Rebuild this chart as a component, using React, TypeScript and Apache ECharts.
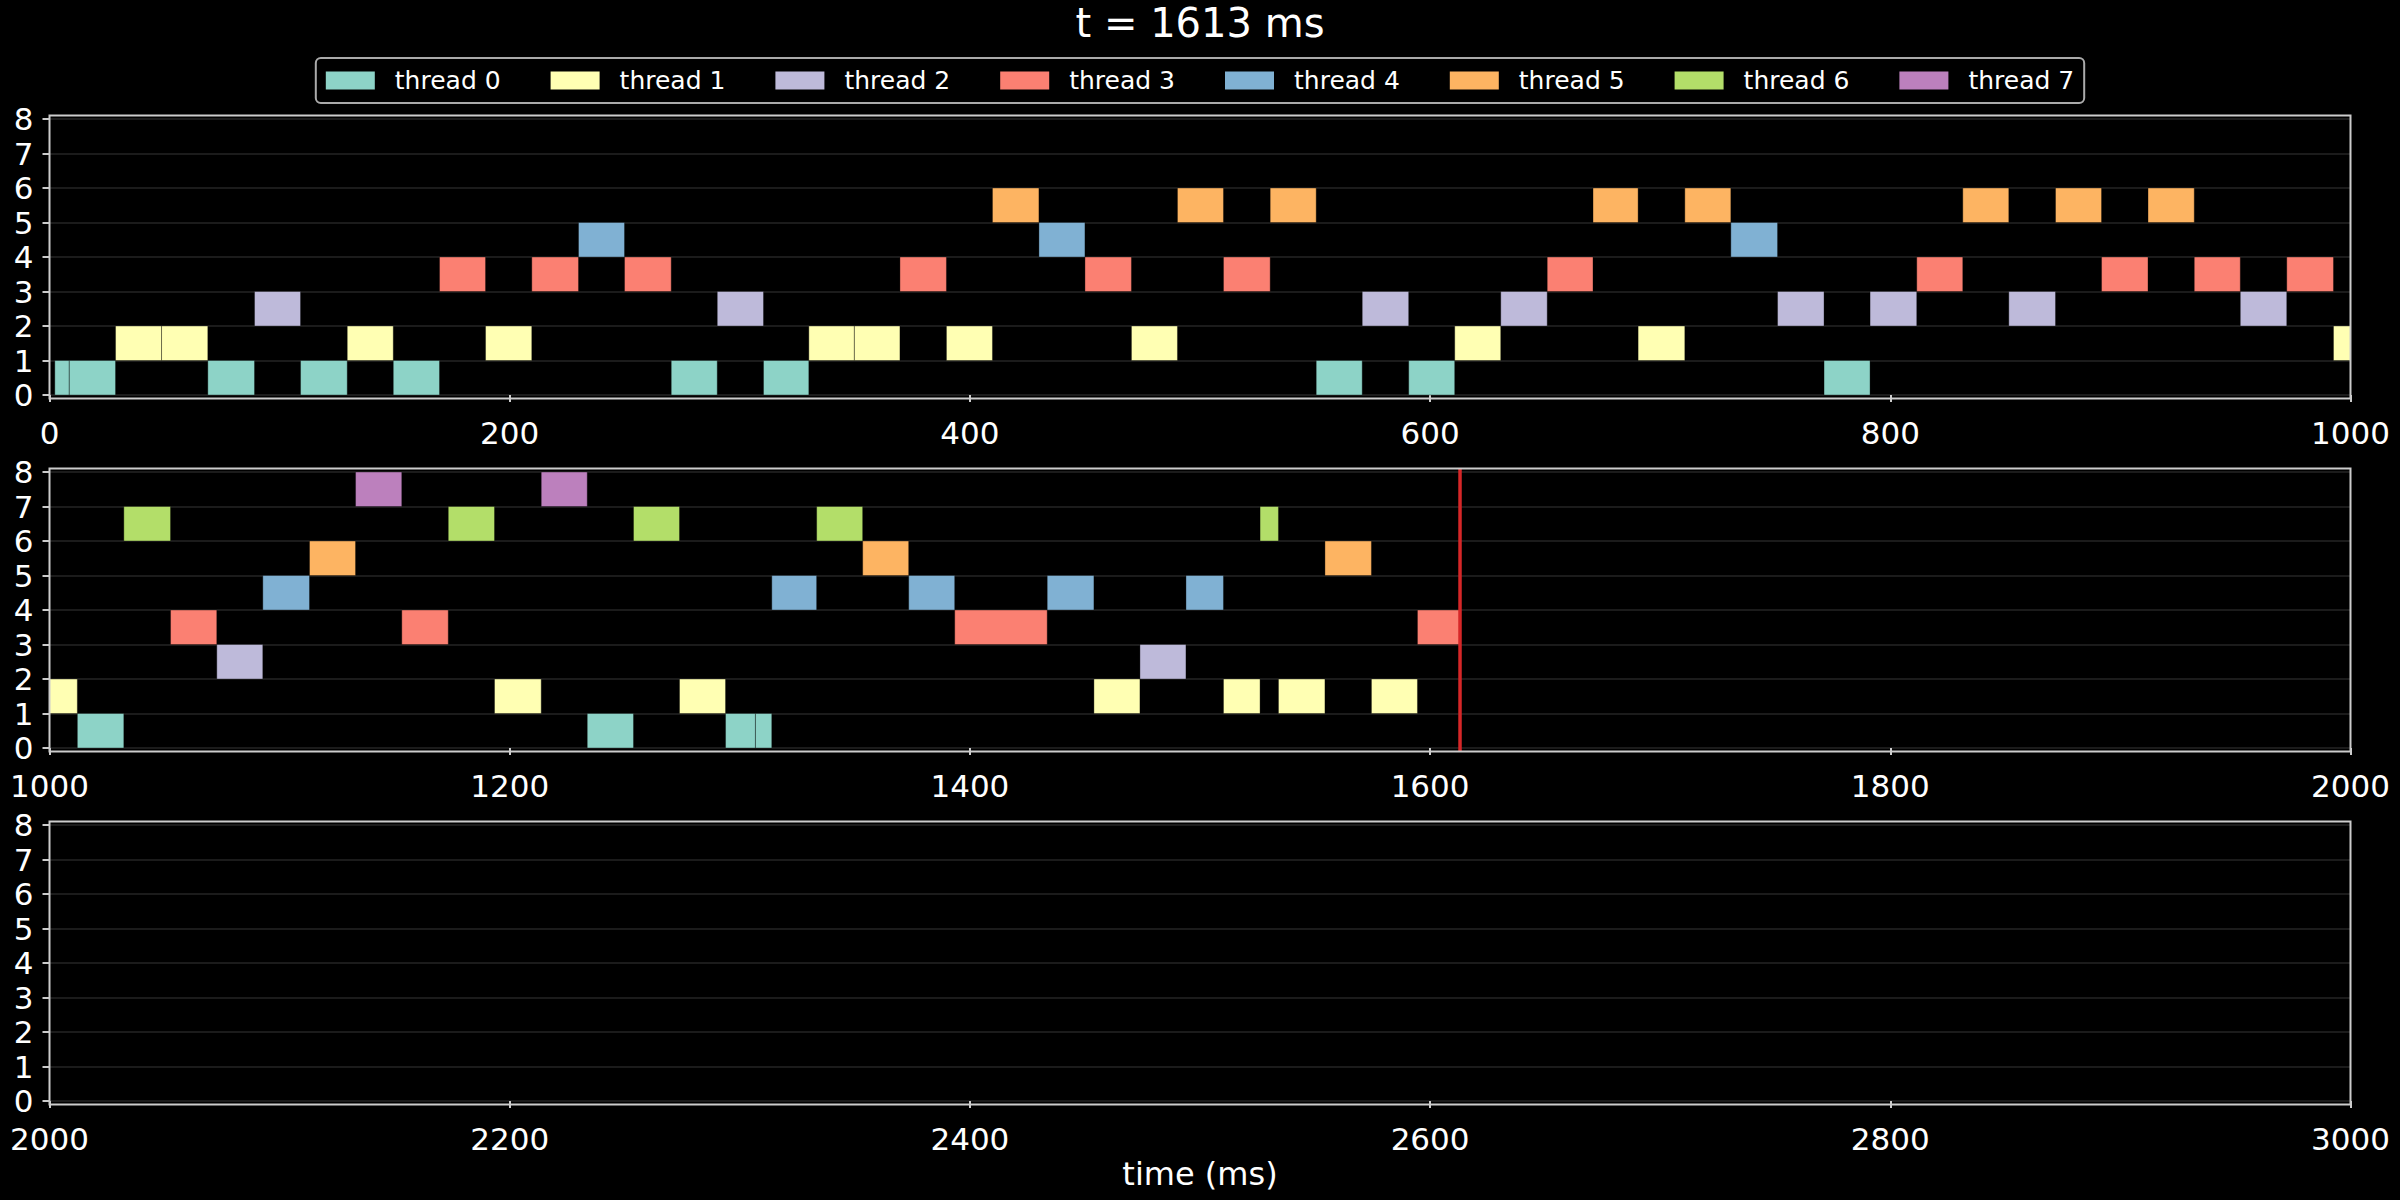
import React, { useEffect, useRef } from "react";
import * as echarts from "echarts";

const THREADS = ["thread 0", "thread 1", "thread 2", "thread 3", "thread 4", "thread 5", "thread 6", "thread 7"];
const COLORS = ["#8dd3c7", "#ffffb3", "#bebada", "#fb8072", "#80b1d3", "#fdb462", "#b3de69", "#bc80bd"];
const CURRENT_T = 1613;
const PANEL_RANGES = [[0, 1000], [1000, 2000], [2000, 3000]];
const Y_TICKS = [0, 1, 2, 3, 4, 5, 6, 7, 8];

// task i runs on thread TASK_THREAD[i] from TASK_START[i] to TASK_END[i] (ms)
const TASK_THREAD = [
  0, 0, 1, 1, 0, 2, 0, 1, 0, 3, 1, 3, 4, 3, 0, 2, 0, 1, 1, 3,
  1, 5, 4, 3, 1, 5, 3, 5, 0, 2, 0, 1, 2, 3, 5, 1, 5, 4, 2, 0,
  2, 3, 5, 2, 5, 3, 5, 3, 2, 3, 1, 0, 6, 3, 2, 4, 5, 7, 3, 6,
  1, 7, 0, 6, 1, 0, 0, 4, 6, 5, 4, 3, 4, 1, 2, 4, 1, 6, 1, 5,
  1, 3,
];
const TASK_START = [
  2.3, 8.6, 28.7, 48.7, 68.8, 89.1, 109.1, 129.4, 149.4, 169.5,
  189.5, 209.6, 229.9, 249.9, 270.2, 290.2, 310.3, 330.0, 349.8, 369.6,
  389.8, 409.8, 430.0, 450.0, 470.2, 490.2, 510.2, 530.5, 550.5, 570.5,
  590.7, 610.7, 630.7, 650.9, 670.8, 690.4, 710.7, 730.7, 751.0, 771.2,
  791.2, 811.5, 831.5, 851.5, 871.8, 891.8, 912.0, 932.1, 952.1, 972.3,
  992.6, 1012.1, 1032.3, 1052.6, 1072.7, 1092.7, 1113.0, 1133.0, 1153.1, 1173.3,
  1193.4, 1213.7, 1233.7, 1253.8, 1273.8, 1293.8, 1306.8, 1313.9, 1333.4, 1353.4,
  1373.4, 1393.4, 1433.6, 1453.9, 1473.9, 1493.9, 1510.2, 1526.1, 1534.1, 1554.3,
  1574.5, 1594.5,
];
const TASK_END = [
  8.6, 28.7, 48.7, 68.8, 89.1, 109.1, 129.4, 149.4, 169.5, 189.5,
  209.6, 229.9, 249.9, 270.2, 290.2, 310.3, 330.0, 349.8, 369.6, 389.8,
  409.8, 430.0, 450.0, 470.2, 490.2, 510.2, 530.5, 550.5, 570.5, 590.7,
  610.7, 630.7, 650.9, 670.8, 690.4, 710.7, 730.7, 751.0, 771.2, 791.2,
  811.5, 831.5, 851.5, 871.8, 891.8, 912.0, 932.1, 952.1, 972.3, 992.6,
  1012.1, 1032.3, 1052.6, 1072.7, 1092.7, 1113.0, 1133.0, 1153.1, 1173.3, 1193.4,
  1213.7, 1233.7, 1253.8, 1273.8, 1293.8, 1306.8, 1313.9, 1333.4, 1353.4, 1373.4,
  1393.4, 1433.6, 1453.9, 1473.9, 1493.9, 1510.2, 1526.1, 1534.1, 1554.3, 1574.5,
  1594.5, 1613.0,
];

const FONT = "DejaVu Sans";
const GRID_LEFT = 49.5;
const GRID_WIDTH = 2301;
const GRID_TOPS = [119, 472, 825];
const GRID_HEIGHT = 276;
const Y_PAD = 0.1; // frame extends 0.1 row beyond 0..8

export default function App() {
  const ref = useRef<HTMLDivElement>(null);

  useEffect(() => {
    if (!ref.current) return;
    const chart = echarts.init(ref.current, null, { renderer: "svg" });
    const unit = GRID_HEIGHT / 8;

    const grids = GRID_TOPS.map((top) => ({
      left: GRID_LEFT,
      top,
      width: GRID_WIDTH,
      height: GRID_HEIGHT,
      containLabel: false,
    }));

    const xAxes = PANEL_RANGES.map(([mn, mx], i) => ({
      type: "value",
      gridIndex: i,
      min: mn,
      max: mx,
      interval: 200,
      offset: Y_PAD * unit,
      axisLine: { show: false },
      axisTick: { show: true, length: 7, lineStyle: { color: "#cccccc", width: 2 } },
      axisLabel: {
        color: "#ffffff",
        fontSize: 31,
        fontFamily: FONT,
        margin: 19,
        showMinLabel: true,
        showMaxLabel: true,
        formatter: (v: number) => String(v),
      },
      splitLine: { show: false },
      ...(i === 2
        ? {
            name: "time (ms)",
            nameLocation: "middle",
            nameGap: 54,
            nameTextStyle: { color: "#ffffff", fontSize: 32, fontFamily: FONT },
          }
        : {}),
    }));

    const yAxes = PANEL_RANGES.map((_, i) => ({
      type: "value",
      gridIndex: i,
      min: Y_TICKS[0],
      max: Y_TICKS[Y_TICKS.length - 1],
      interval: 1,
      axisLine: { show: false },
      axisTick: { show: true, length: 7, lineStyle: { color: "#cccccc", width: 2 } },
      axisLabel: { color: "#ffffff", fontSize: 31, fontFamily: FONT, margin: 16 },
      splitLine: { show: true, lineStyle: { color: "#242424", width: 1.5 } },
    }));

    const renderTask = (params: any, api: any) => {
      const s = api.value(0);
      const e = api.value(1);
      const th = api.value(2);
      const p0 = api.coord([s, th + 1]);
      const p1 = api.coord([e, th]);
      const cs = params.coordSys;
      const shape = echarts.graphic.clipRectByRect(
        { x: p0[0], y: p0[1], width: p1[0] - p0[0], height: p1[1] - p0[1] },
        { x: cs.x, y: cs.y, width: cs.width, height: cs.height }
      );
      if (!shape) return null;
      return {
        type: "rect",
        shape,
        style: { fill: COLORS[th], stroke: "rgba(0,0,0,0.35)", lineWidth: 1 },
      };
    };

    const series: any[] = [];
    PANEL_RANGES.forEach(([mn, mx], p) => {
      THREADS.forEach((name, th) => {
        const data: number[][] = [];
        for (let i = 0; i < TASK_THREAD.length; i++) {
          if (TASK_THREAD[i] !== th) continue;
          if (TASK_END[i] <= mn || TASK_START[i] >= mx) continue;
          data.push([TASK_START[i], TASK_END[i], th]);
        }
        series.push({
          type: "custom",
          name,
          xAxisIndex: p,
          yAxisIndex: p,
          itemStyle: { color: COLORS[th] },
          encode: { x: [0, 1], y: 2 },
          renderItem: renderTask,
          data,
          silent: true,
        });
      });
    });

    const cursorPanel = PANEL_RANGES.findIndex(([mn, mx]) => CURRENT_T >= mn && CURRENT_T < mx);
    series.push({
      type: "custom",
      name: "cursor",
      xAxisIndex: cursorPanel,
      yAxisIndex: cursorPanel,
      silent: true,
      z: 10,
      data: [[CURRENT_T]],
      encode: { x: 0 },
      renderItem: (params: any, api: any) => {
        const t = api.value(0);
        const a = api.coord([t, 8 + Y_PAD]);
        const b = api.coord([t, -Y_PAD]);
        return {
          type: "line",
          shape: { x1: a[0], y1: a[1], x2: b[0], y2: b[1] },
          style: { stroke: "#d62728", lineWidth: 3.5 },
        };
      },
    });

    const frames = GRID_TOPS.map((top) => ({
      type: "rect",
      silent: true,
      z: 100,
      shape: {
        x: GRID_LEFT,
        y: top - Y_PAD * unit,
        width: GRID_WIDTH,
        height: GRID_HEIGHT + 2 * Y_PAD * unit,
      },
      style: { fill: "none", stroke: "#cccccc", lineWidth: 2 },
    }));

    chart.setOption({
      animation: false,
      backgroundColor: "#000000",
      title: {
        text: `t = ${CURRENT_T} ms`,
        left: "center",
        top: -2,
        textStyle: { color: "#ffffff", fontSize: 40, fontWeight: "normal", fontFamily: FONT },
      },
      legend: {
        data: THREADS,
        left: "center",
        top: 58,
        icon: "rect",
        itemWidth: 49,
        itemHeight: 18,
        itemGap: 50,
        selectedMode: false,
        padding: [10, 10],
        backgroundColor: "#000000",
        borderColor: "#aaaaaa",
        borderWidth: 2,
        borderRadius: 5,
        textStyle: { color: "#ffffff", fontSize: 25, fontFamily: FONT, padding: [0, 0, 0, 15] },
      },
      grid: grids,
      xAxis: xAxes,
      yAxis: yAxes,
      series,
      graphic: frames,
    });

    return () => chart.dispose();
  }, []);

  return (
    <div
      ref={ref}
      style={{ position: "fixed", left: 0, top: 0, width: 2400, height: 1200, background: "#000" }}
    />
  );
}
